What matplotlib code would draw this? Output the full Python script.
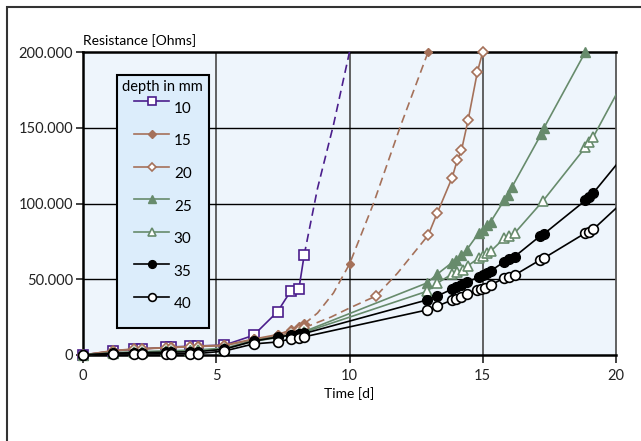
import matplotlib
matplotlib.use('Agg')
import matplotlib.pyplot as plt
from matplotlib.ticker import FuncFormatter
from matplotlib.patches import Rectangle

plt.rcParams['font.family'] = ['Lato', 'DejaVu Sans']

# ---- data (days, Ohms) ----
early_days = [0, 1.13, 1.9, 2.2, 3.1, 3.3, 4.0, 4.3, 5.3, 6.4, 7.3, 7.8, 8.1, 8.3]
r10 = [0, 2600, 3800, 4000, 5000, 5300, 5800, 6000, 6500, 13000, 28600, 42400, 43500, 66000]
r15 = [0, 2900, 4000, 4200, 4900, 5100, 5600, 5800, 6500, 10500, 13500, 16500, 18500, 20500]
r20 = [0, 2700, 3800, 4000, 4700, 4900, 5400, 5600, 6200, 10000, 12500, 15000, 16500, 18000]
r25 = [0, 1500, 2000, 2200, 2700, 2800, 3200, 3400, 4500, 9500, 12000, 13500, 14500, 15500]
r30 = [0, 1300, 1800, 2000, 2400, 2500, 2900, 3000, 4000, 9000, 11500, 13000, 14000, 15000]
r35 = [0, 1200, 1500, 1600, 1800, 1900, 2100, 2200, 3800, 9200, 11800, 13200, 13800, 14200]
r40 = [0, 700, 700, 700, 800, 800, 900, 900, 2600, 7300, 8600, 10600, 11200, 12000]

# extrapolated (dashed) parts
ext10_days = [8.3, 8.8, 9.4, 10.0]
ext10 = [66000, 110000, 152000, 200000]
ext15_days = [8.3, 8.8, 9.4, 10.0, 10.9, 11.9, 12.95]
ext15 = [20500, 27700, 41000, 60000, 100000, 150500, 200000]
ext15_mark_days = [10.0, 12.95]
ext15_mark = [60000, 200000]
ext20_days = [8.3, 9.3, 10.0, 11.0, 11.8, 12.95]
ext20 = [18000, 25000, 31000, 39000, 54000, 79000]
ext20_mark_days = [11.0]
ext20_mark = [39000]

# later measurements
late20_days = [12.95, 13.3, 13.85, 14.05, 14.2, 14.45, 14.8, 15.0]
late20 = [79000, 94000, 117000, 129000, 135000, 155000, 187000, 200000]
late25_days = [12.9, 13.3, 13.85, 14.0, 14.2, 14.4, 14.85, 15.0, 15.15, 15.3, 15.8, 15.95, 16.1, 17.2, 17.3, 18.85]
late25 = [47500, 53500, 61000, 63000, 66000, 69500, 80500, 82500, 86000, 88000, 102000, 105500, 111000, 146000, 150000, 200000]
late30_days = [12.9, 13.3, 13.85, 14.05, 14.25, 14.45, 14.85, 15.0, 15.15, 15.3, 15.8, 16.0, 16.2, 17.25, 18.85, 19.0, 19.15]
late30 = [42000, 47500, 53500, 55000, 56000, 59000, 64000, 65500, 67500, 68500, 77000, 78500, 80500, 101500, 137000, 140500, 144000]
late35_days = [12.9, 13.3, 13.85, 14.0, 14.2, 14.4, 14.85, 15.0, 15.15, 15.3, 15.8, 16.0, 16.2, 17.15, 17.3, 18.85, 19.0, 19.15]
late35 = [36300, 39000, 43500, 45000, 46200, 48000, 51500, 52800, 54000, 55500, 61500, 63400, 65000, 78500, 80000, 102000, 104500, 107000]
late40_days = [12.9, 13.3, 13.85, 14.0, 14.2, 14.4, 14.8, 14.95, 15.1, 15.3, 15.8, 16.0, 16.2, 17.15, 17.3, 18.85, 19.0, 19.15]
late40 = [29700, 32300, 36300, 37000, 38300, 40300, 43000, 43500, 44200, 46200, 50800, 51500, 52800, 62700, 64000, 80500, 81000, 83000]

# lines running on past the right edge
tail30_days, tail30 = [19.15, 20.5], [144000, 188000]
tail35_days, tail35 = [19.15, 20.5], [107000, 136000]
tail40_days, tail40 = [19.15, 20.5], [83000, 105000]

purple = '#4b1e8c'
brown = '#a5715a'
green = '#678b6c'
black = '#000000'
dash = (0, (5, 3))

fig = plt.figure(figsize=(6.41, 4.41), dpi=100)
ax = fig.add_axes([83/641, 1 - 355/441, 533/641, 303/441])
ax.set_facecolor('#eef5fc')

# outer frame (cut off at right/bottom)
fig.patches.append(Rectangle((7/641, -0.2), 1.2, 1.2 - 7/441, transform=fig.transFigure,
                             fill=False, edgecolor='#333333', lw=1.5))

for v in [5, 10, 15]:
    ax.axvline(v, color='#555555', lw=1.3, zorder=1)
for v in [50000, 100000, 150000]:
    ax.axhline(v, color='black', lw=1.0, zorder=1)

lw = 1.2
# 10 mm
ax.plot(ext10_days, ext10, color=purple, lw=lw, ls=dash, zorder=3, clip_on=False)
ax.plot(early_days, r10, color=purple, lw=lw, marker='s', ms=6.5, mfc='white', mec=purple,
        mew=1.2, label='10', zorder=3, clip_on=False)
# 15 mm
ax.plot(ext15_days, ext15, color=brown, lw=lw, ls=dash, zorder=3, clip_on=False)
ax.plot(ext15_mark_days, ext15_mark, ls='none', marker='D', ms=4, color=brown, zorder=3, clip_on=False)
ax.plot(early_days, r15, color=brown, lw=lw, marker='D', ms=5, mfc=brown, mec=brown,
        label='15', zorder=3, clip_on=False)
# 20 mm
ax.plot(ext20_days, ext20, color=brown, lw=lw, ls=dash, zorder=3, clip_on=False)
ax.plot(ext20_mark_days, ext20_mark, ls='none', marker='D', ms=5, mfc='white', mec=brown,
        mew=1.2, zorder=3, clip_on=False)
ax.plot(late20_days, late20, color=brown, lw=lw, marker='D', ms=5.5, mfc='white', mec=brown,
        mew=1.2, zorder=3, clip_on=False)
ax.plot(early_days, r20, color=brown, lw=lw, marker='D', ms=5, mfc='white', mec=brown,
        mew=1.2, label='20', zorder=3, clip_on=False)
# 25 mm
ax.plot(early_days + late25_days, r25 + late25, color=green, lw=lw, marker='^', ms=7,
        mfc=green, mec=green, label='25', zorder=4, clip_on=False)
# 30 mm
ax.plot(tail30_days, tail30, color=green, lw=lw, zorder=4)
ax.plot(early_days + late30_days, r30 + late30, color=green, lw=lw, marker='^', ms=7,
        mfc='white', mec=green, mew=1.2, label='30', zorder=4, clip_on=False)
# 35 mm
ax.plot(tail35_days, tail35, color=black, lw=lw, zorder=5)
ax.plot(early_days + late35_days, r35 + late35, color=black, lw=lw, marker='o', ms=7,
        mfc=black, mec=black, label='35', zorder=5, clip_on=False)
# 40 mm
ax.plot(tail40_days, tail40, color=black, lw=lw, zorder=5)
ax.plot(early_days + late40_days, r40 + late40, color=black, lw=lw, marker='o', ms=7,
        mfc='white', mec=black, mew=1.2, label='40', zorder=5, clip_on=False)

ax.set_xlim(0, 20)
ax.set_ylim(0, 200000)
ax.set_xticks([0, 5, 10, 15, 20])
ax.set_yticks([0, 50000, 100000, 150000, 200000])
ax.yaxis.set_major_formatter(FuncFormatter(lambda v, p: f"{int(v):,}".replace(',', '.')))
ax.tick_params(axis='both', labelsize=10.5, colors='#222222', width=1.2)
ax.tick_params(axis='y', length=5, pad=2)
ax.tick_params(axis='x', length=6, pad=4)

for s in ['left', 'bottom', 'top']:
    ax.spines[s].set_linewidth(1.8)
    ax.spines[s].set_color('black')
ax.spines['right'].set_color('#555555')
ax.spines['right'].set_linewidth(1.3)

ax.set_xlabel('Time [d]', fontsize=10, labelpad=3)
ax.text(0, 1.018, 'Resistance [Ohms]', transform=ax.transAxes, fontsize=10, ha='left', va='bottom')

leg = ax.legend(title='depth in mm', loc='upper left', bbox_to_anchor=(0.064, 0.924),
                fontsize=11, title_fontsize=10.5, fancybox=False, edgecolor='black',
                facecolor='#dcedfb', framealpha=1, labelspacing=-0.3, handleheight=3.37,
                handlelength=2.3, handletextpad=0.3, borderpad=0.35, borderaxespad=0,
                markerscale=0.8)
leg.get_frame().set_linewidth(1.5)
leg.set_zorder(6)

fig.savefig('out.png', dpi=100)
